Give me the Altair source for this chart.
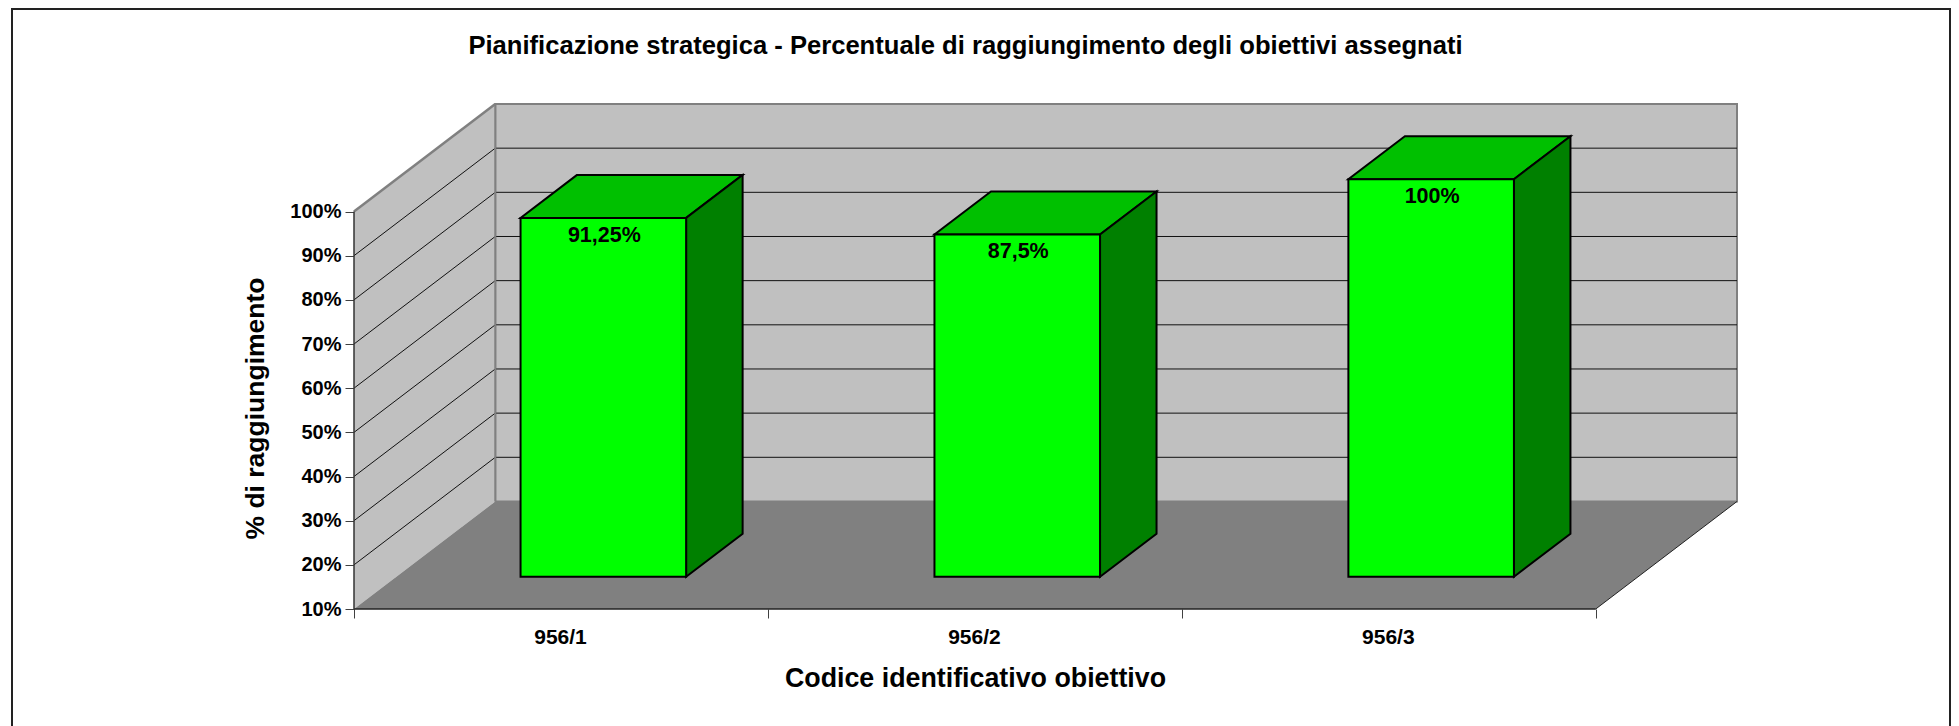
import altair as alt
import pandas as pd

# ---- values
categories = ["956/1", "956/2", "956/3"]
values = [91.25, 87.5, 100]
value_labels = ["91,25%", "87,5%", "100%"]
pct_ticks = [10, 20, 30, 40, 50, 60, 70, 80, 90, 100]
grid_pcts = [20, 30, 40, 50, 60, 70, 80, 90]
cat_edges = [0, 1, 2, 3]

title = "Pianificazione strategica - Percentuale di raggiungimento degli obiettivi assegnati"
x_title = "Codice identificativo obiettivo"
y_title = "% di raggiungimento"

# oblique projection: moving through the depth shifts both data axes
DX = 0.3413
DY = 24.35
U_MAX = 3
P_MIN, P_MAX = 10, 100
NEAR, FAR = 0.3, 0.7      # bar extent through the depth
GAP = 0.3                 # bar inset inside a category

FONT = "Liberation Sans"
W, H = 1383, 505

x_scale = alt.Scale(domain=[0, U_MAX + DX], nice=False, zero=False)
y_scale = alt.Scale(domain=[P_MIN, P_MAX + DY], nice=False, zero=False)

x_axis = alt.Axis(
    values=cat_edges, domain=False, grid=False, tickSize=9, tickColor="#404040", tickWidth=1,
    labelExpr="['956/1','956/2','956/3',''][datum.value]", labelOffset=206, labelFlush=False,
    labelBound=False, labelOverlap=False, labelFont=FONT, labelFontWeight="bold", labelFontSize=21,
    labelColor="black", labelPadding=8,
    title=x_title, titleFont=FONT, titleFontWeight="bold", titleFontSize=26.8, titleColor="black",
    titleX=621, titleY=69, titleBaseline="middle", titleAlign="center",
)
y_axis = alt.Axis(
    values=pct_ticks, domain=False, grid=False, tickSize=9, tickColor="#404040", tickWidth=1,
    labelExpr="datum.value + '%'", labelFont=FONT, labelFontWeight="bold", labelFontSize=20,
    labelColor="black", labelPadding=4, labelOverlap=False, labelBound=False, labelFlush=False,
    title=y_title, titleFont=FONT, titleFontWeight="bold", titleFontSize=26.5, titleColor="black",
    titleX=-99, titleY=304, titleBaseline="middle", titleAlign="center", titleAngle=270,
)


def X(field="x"):
    return alt.X(f"{field}:Q", scale=x_scale, axis=x_axis)


def Y(field="y"):
    return alt.Y(f"{field}:Q", scale=y_scale, axis=y_axis)


# ---- frame around the whole figure
frame_df = pd.DataFrame({"k": [0]})
frame = alt.Chart(frame_df).mark_rect(fillOpacity=0, stroke="#222222", strokeWidth=2).encode(
    x=alt.value(-342), x2=alt.value(1596), y=alt.value(-95), y2=alt.value(800)
)

# ---- back wall
wall_df = pd.DataFrame({"x": [DX], "x2": [U_MAX + DX], "y": [P_MIN + DY], "y2": [P_MAX + DY]})
wall = alt.Chart(wall_df).mark_rect(fill="#C0C0C0", stroke="#808080", strokeWidth=2).encode(
    x=X(), x2="x2:Q", y=Y(), y2="y2:Q"
)

# ---- back wall gridlines
back_df = pd.DataFrame({"x": [DX] * len(grid_pcts), "x2": [U_MAX + DX] * len(grid_pcts),
                        "y": [p + DY for p in grid_pcts]})
back_grid = alt.Chart(back_df).mark_rule(color="#111111", strokeWidth=1).encode(
    x=X(), x2="x2:Q", y=Y()
)

# ---- left wall
left_df = pd.DataFrame({"x": [0, DX], "y": [P_MIN, P_MIN + DY], "y2": [P_MAX, P_MAX + DY]})
left_wall = alt.Chart(left_df).mark_area(color="#C0C0C0", orient="vertical").encode(
    x=X(), y=Y(), y2="y2:Q"
)

side_rows = []
for p in grid_pcts:
    side_rows.append({"g": p, "x": 0, "y": p})
    side_rows.append({"g": p, "x": DX, "y": p + DY})
side_grid = alt.Chart(pd.DataFrame(side_rows)).mark_line(color="#111111", strokeWidth=1).encode(
    x=X(), y=Y(), detail="g:N"
)
top_edge_df = pd.DataFrame({"x": [0, DX], "y": [P_MAX, P_MAX + DY]})
top_edge = alt.Chart(top_edge_df).mark_line(color="#808080", strokeWidth=2.5).encode(x=X(), y=Y())
back_left_df = pd.DataFrame({"x": [DX], "y": [P_MIN + DY], "y2": [P_MAX + DY]})
back_left = alt.Chart(back_left_df).mark_rule(color="#808080", strokeWidth=2).encode(
    x=X(), y=Y(), y2="y2:Q"
)

# ---- floor
floor_df = pd.DataFrame({"y": [P_MIN, P_MIN + DY], "x": [0, DX], "x2": [U_MAX, U_MAX + DX]})
floor = alt.Chart(floor_df).mark_area(color="#808080", orient="horizontal").encode(
    y=Y(), x=X(), x2="x2:Q"
)
floor_right_df = pd.DataFrame({"x": [U_MAX, U_MAX + DX], "y": [P_MIN, P_MIN + DY]})
floor_right = alt.Chart(floor_right_df).mark_line(color="#222222", strokeWidth=1).encode(x=X(), y=Y())
front_edge_df = pd.DataFrame({"x": [0], "x2": [U_MAX], "y": [P_MIN]})
front_edge = alt.Chart(front_edge_df).mark_rule(color="#222222", strokeWidth=1.5).encode(
    x=X(), x2="x2:Q", y=Y()
)
axis_line_df = pd.DataFrame({"x": [0], "y": [P_MIN], "y2": [P_MAX]})
axis_line = alt.Chart(axis_line_df).mark_rule(color="#333333", strokeWidth=1.5).encode(
    x=X(), y=Y(), y2="y2:Q"
)

# ---- bars
front_rows, top_rows, side_rows2, label_rows = [], [], [], []
for i, (cat, v, lab) in enumerate(zip(categories, values, value_labels)):
    xl = i + GAP
    xr = i + 1 - GAP
    front_rows.append({"cat": cat, "x": xl + NEAR * DX, "x2": xr + NEAR * DX,
                       "y": P_MIN + NEAR * DY, "y2": v + NEAR * DY})
    for d in (NEAR, FAR):
        top_rows.append({"cat": cat, "y": v + d * DY, "x": xl + d * DX, "x2": xr + d * DX})
        side_rows2.append({"cat": cat, "x": xr + d * DX, "y": P_MIN + d * DY, "y2": v + d * DY})
    label_rows.append({"cat": cat, "x": (xl + xr) / 2 + NEAR * DX, "y": v + NEAR * DY, "label": lab})

bar_stroke = dict(stroke="black", strokeWidth=2)
bar_front = alt.Chart(pd.DataFrame(front_rows)).mark_rect(fill="#00FF00", **bar_stroke).encode(
    x=X(), x2="x2:Q", y=Y(), y2="y2:Q"
)
bar_top = alt.Chart(pd.DataFrame(top_rows)).mark_area(
    color="#00C000", orient="horizontal", line=False, **bar_stroke
).encode(y=Y(), x=X(), x2="x2:Q", detail="cat:N")
bar_side = alt.Chart(pd.DataFrame(side_rows2)).mark_area(
    color="#008000", orient="vertical", line=False, **bar_stroke
).encode(x=X(), y=Y(), y2="y2:Q", detail="cat:N")
bar_labels = alt.Chart(pd.DataFrame(label_rows)).mark_text(
    font=FONT, fontWeight="bold", fontSize=21.5, color="black", baseline="middle", dy=18, dx=1
).encode(x=X(), y=Y(), text="label:N")

chart = alt.layer(
    frame, wall, back_grid, left_wall, side_grid, top_edge, back_left, floor, floor_right, front_edge,
    axis_line, bar_top, bar_side, bar_front, bar_labels,
).properties(
    width=W, height=H,
    autosize=alt.AutoSizeParams(type="none", contains="content"),
    padding={"left": 346, "top": 96, "right": 214, "bottom": 117},
    background="white",
    title=alt.TitleParams(
        title, font=FONT, fontWeight="bold", fontSize=25.6, color="black",
        anchor="middle", frame="group", dx=-80, offset=-64, baseline="middle",
    ),
).configure_view(stroke=None)

chart.save("out.html", embed_options={"renderer": "svg", "actions": False})
